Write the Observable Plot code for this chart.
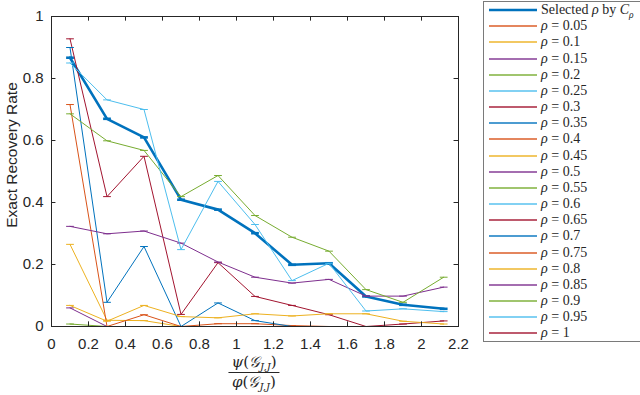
<!DOCTYPE html>
<html>
<head>
<meta charset="utf-8">
<script src="https://cdn.jsdelivr.net/npm/d3@7"></script>
<script src="https://cdn.jsdelivr.net/npm/@observablehq/plot@0.6"></script>
<style>
  html, body { margin: 0; padding: 0; background: #fff; }
  #wrap { position: relative; width: 640px; height: 395px; overflow: hidden; font-family: "Liberation Sans", Arial, sans-serif; }
  #chart { position: absolute; left: 0; top: 0; }
  #ylabel { position: absolute; left: 12px; top: 155px; transform: translate(-50%, -50%) rotate(-90deg); font-size: 15.5px; color: #262626; white-space: nowrap; }
  #xlabel { position: absolute; left: 254px; top: 354px; transform: translateX(-50%); font-family: "DejaVu Serif", "Liberation Serif", serif; font-size: 15px; color: #262626; text-align: center; line-height: 16px; }
  #xlabel .num { padding: 0 3px 2px 3px; border-bottom: 1px solid #262626; }
  #xlabel .den { padding-top: 1px; }
  #xlabel sub { font-size: 10px; font-style: italic; line-height: 0; vertical-align: -0.3em; }
  #legend { position: absolute; left: 483px; top: 1px; width: 160px; height: 341px; border: 1px solid #7a7a7a; box-sizing: border-box; background: #fff; }
  #legend svg { position: absolute; left: 0; top: 0; }
  .lt { position: absolute; left: 57px; font-family: "Liberation Serif", "DejaVu Serif", serif; font-size: 14px; color: #262626; white-space: nowrap; line-height: 16px; }
  .lt sub { font-size: 9.5px; line-height: 0; }
</style>
</head>
<body>
<div id="wrap">
  <div id="chart"></div>
  <div id="ylabel">Exact Recovery Rate</div>
  <div id="xlabel"><div class="num"><i>ψ</i>(<i>𝒢</i><sub>J,J</sub>)</div><div class="den"><i>φ</i>(<i>𝒢</i><sub>J,J</sub>)</div></div>
  <div id="legend"></div>
</div>
<script>
// ---- data ----
const xs = [0.1, 0.3, 0.5, 0.7, 0.9, 1.1, 1.3, 1.5, 1.7, 1.9, 2.12];
const xTicks = [0, 0.2, 0.4, 0.6, 0.8, 1, 1.2, 1.4, 1.6, 1.8, 2, 2.2];
const yTicks = [0, 0.2, 0.4, 0.6, 0.8, 1];
const rhoLabels = ["0.05","0.1","0.15","0.2","0.25","0.3","0.35","0.4","0.45","0.5","0.55","0.6","0.65","0.7","0.75","0.8","0.85","0.9","0.95","1"];
const colors = ["#D95319","#EDB120","#7E2F8E","#77AC30","#4DBEEE","#A2142F","#0072BD"];

const selected = [0.867, 0.67, 0.61, 0.409, 0.377, 0.301, 0.199, 0.204, 0.097, 0.07, 0.057];
const r005 = [0, 0, 0, 0, 0, 0, 0, 0, 0, 0, 0];
const r010 = [0, 0, 0, 0, 0, 0, 0, 0, 0, 0, 0];
const r015 = [0, 0, 0, 0, 0, 0, 0, 0, 0, 0, 0];
const r020 = [0.008, 0, 0, 0, 0, 0, 0, 0, 0, 0, 0];
const r025 = [0, 0, 0, 0, 0, 0, 0, 0, 0, 0, 0];
const r030 = [0, 0, 0, 0, 0, 0, 0, 0, 0, 0, 0];
const r035 = [0, 0, 0, 0, 0, 0, 0, 0, 0, 0, 0];
const r040 = [0, 0, 0, 0, 0.009, 0.009, 0.003, 0, 0, 0, 0];
const r045 = [0.265, 0.02, 0.019, 0, 0, 0, 0, 0, 0, 0, 0];
const r050 = [0.06, 0, 0, 0, 0, 0, 0, 0, 0, 0, 0];
const r055 = [0, 0, 0, 0, 0, 0, 0, 0, 0, 0, 0];
const r060 = [0, 0, 0, 0, 0, 0, 0, 0, 0, 0, 0];
const r065 = [0.928, 0.419, 0.549, 0.039, 0.206, 0.097, 0.068, 0.038, 0, 0.008, 0.018];
const r070 = [0.90, 0.078, 0.258, 0, 0.076, 0.019, 0, 0, 0, 0, 0];
const r075 = [0.716, 0, 0.038, 0, 0, 0, 0, 0, 0, 0, 0];
const r080 = [0.068, 0.017, 0.068, 0.032, 0.028, 0.041, 0.034, 0.041, 0.041, 0.017, 0.008];
const r085 = [0.323, 0.299, 0.308, 0.269, 0.208, 0.159, 0.14, 0.152, 0.098, 0.098, 0.127];
const r090 = [0.686, 0.599, 0.568, 0.419, 0.487, 0.358, 0.288, 0.243, 0.119, 0.078, 0.159];
const r095 = [0.85, 0.731, 0.70, 0.248, 0.468, 0.329, 0.148, 0.204, 0.05, 0.057, 0.048];
const r100 = [0, 0, 0, 0, 0, 0, 0, 0, 0, 0, 0];

const rhoSeries = [r005,r010,r015,r020,r025,r030,r035,r040,r045,r050,r055,r060,r065,r070,r075,r080,r085,r090,r095,r100];

// ---- build series ----
const series = [{name: "Selected", values: selected, color: "#0072BD", width: 2.6}]
  .concat(rhoSeries.map((v, i) => ({name: rhoLabels[i], values: v, color: colors[i % 7], width: 1})));

const capHalf = 0.021;
const marks = [];
series.forEach(s => {
  const rows = xs.map((x, i) => ({x, y: s.values[i]}));
  marks.push(Plot.line(rows, {x: "x", y: "y", stroke: s.color, strokeWidth: s.width}));
  marks.push(Plot.link(rows, {x1: d => d.x - capHalf, x2: d => d.x + capHalf, y1: "y", y2: "y", stroke: s.color, strokeWidth: s.width}));
});

const axisColor = "#262626";
const chart = Plot.plot({
  width: 640,
  height: 395,
  marginLeft: 51,
  marginRight: 182,
  marginTop: 16,
  marginBottom: 69,
  style: {fontFamily: '"Liberation Sans", Arial, sans-serif', fontSize: "15px", color: axisColor, background: "transparent"},
  x: {domain: [0, 2.2]},
  y: {domain: [0, 1]},
  marks: [
    ...marks,
    Plot.ruleX(xTicks, {x: d => d, y1: 0, y2: 0.015, stroke: axisColor, strokeWidth: 1}),
    Plot.ruleX(xTicks, {x: d => d, y1: 1, y2: 0.985, stroke: axisColor, strokeWidth: 1}),
    Plot.ruleY(yTicks, {y: d => d, x1: 0, x2: 0.024, stroke: axisColor, strokeWidth: 1}),
    Plot.ruleY(yTicks, {y: d => d, x1: 2.2, x2: 2.176, stroke: axisColor, strokeWidth: 1}),
    Plot.frame({stroke: axisColor, strokeWidth: 1}),
    Plot.axisX(xTicks, {tickSize: 0, tickPadding: 12, tickFormat: d => String(d), label: null}),
    Plot.axisY(yTicks, {tickSize: 0, tickPadding: 8, tickFormat: d => String(d), label: null})
  ]
});
document.getElementById("chart").appendChild(chart);

// ---- legend ----
const legend = document.getElementById("legend");
const NS = "http://www.w3.org/2000/svg";
const sv = document.createElementNS(NS, "svg");
sv.setAttribute("width", 158);
sv.setAttribute("height", 339);
legend.appendChild(sv);
series.forEach((s, i) => {
  const cy = Math.round(8 + i * 16.17);
  const ln = document.createElementNS(NS, "line");
  ln.setAttribute("x1", 5);
  ln.setAttribute("x2", 53);
  ln.setAttribute("y1", cy);
  ln.setAttribute("y2", cy);
  ln.setAttribute("stroke", s.color);
  ln.setAttribute("stroke-width", s.width > 2 ? s.width : 2);
  ln.setAttribute("stroke-opacity", s.width > 2 ? 1 : 0.7);
  sv.appendChild(ln);
  const t = document.createElement("div");
  t.className = "lt";
  t.style.top = (cy - 8) + "px";
  t.innerHTML = i === 0 ? 'Selected <i>ρ</i> by <i>C</i><sub><i>ρ</i></sub>' : '<i>ρ</i> = ' + s.name;
  legend.appendChild(t);
});
</script>
</body>
</html>
